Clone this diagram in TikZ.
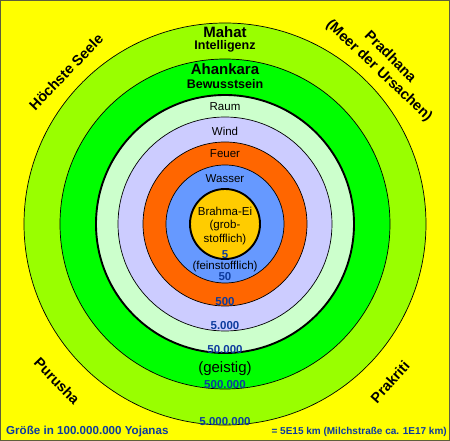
\documentclass[tikz,border=0pt]{standalone}
\usepackage{fontspec}
\setmainfont{Liberation Sans}

\definecolor{bgyellow}{HTML}{FFFF00}
\definecolor{framegray}{HTML}{5F5F3A}
\definecolor{mahatgreen}{HTML}{99FF00}
\definecolor{ahankgreen}{HTML}{00FF00}
\definecolor{raumgreen}{HTML}{CCFFCC}
\definecolor{windblue}{HTML}{CCCCFF}
\definecolor{feuerorange}{HTML}{FF6600}
\definecolor{wasserblue}{HTML}{6699FF}
\definecolor{eiyellow}{HTML}{FFCC00}
\definecolor{sizeblue}{HTML}{0D3B9E}

\begin{document}
\begin{tikzpicture}[x=1pt, y=1pt, every node/.style={inner sep=0pt, font=\fontsize{11.5}{13.5}\selectfont},
	thinring/.style={draw=black, line width=0.7pt},
	thickring/.style={draw=black, line width=1.9pt},
	bigname/.style={font=\bfseries\fontsize{15}{17}\selectfont},
	subname/.style={font=\bfseries\fontsize{12.5}{14}\selectfont},
	sizelabel/.style={text=sizeblue, font=\bfseries\fontsize{11.5}{13}\selectfont},
	cornername/.style={font=\bfseries\fontsize{14.5}{16}\selectfont}]
	% background and frame
	\fill[bgyellow] (-225,-217) rectangle (225,224);
	\draw[framegray, line width=1pt] (-224.5,-216.5) rectangle (224.5,223.5);
	\useasboundingbox (-225,-217) rectangle (225,224);
	% rings from outside to inside
	\filldraw[mahatgreen, thinring] (0,0) circle (201);
	\filldraw[ahankgreen, thinring] (0,0) circle (165);
	\filldraw[raumgreen, thickring] (0,0) circle (129);
	\filldraw[windblue, thinring] (0,0) circle (107);
	\filldraw[feuerorange, thinring] (0,0) circle (82);
	\filldraw[wasserblue, thinring] (0,0) circle (59);
	\filldraw[eiyellow, thickring] (0,0) circle (35);
	% names of the rings
	\node[bigname] (mahat) at (0,192) {Mahat};
	\node[subname] (intell) at (0,178) {Intelligenz};
	\node[bigname] (ahankara) at (0,155) {Ahankara};
	\node[subname] (bewusst) at (0,140) {Bewusstsein};
	\node (raum) at (0,117) {Raum};
	\node (wind) at (0,93) {Wind};
	\node (feuer) at (0,70) {Feuer};
	\node (wasser) at (0,45) {Wasser};
	\node[align=center] (ei) at (0,-2) {Brahma-Ei\\(grob-\\stofflich)};
	\node (fein) at (0,-43) {(feinstofflich)};
	\node[font=\fontsize{15}{17}\selectfont] (geistig) at (0,-145) {(geistig)};
	% sizes
	\foreach \lab/\y [count=\i] in {5/-31, 50/-53, 500/-78, 5.000/-102, 50.000/-126, 500.000/-161, 5.000.000/-198}
		{\node[sizelabel] (size\i) at (0,\y) {\lab};}
	% corner names
	\node[cornername, rotate=46] (seele) at (-159,152) {Höchste Seele};
	\node[cornername, rotate=-45] (pradhana) at (166,168) {Pradhana};
	\node[cornername, rotate=-43.5] (meer) at (154,153) {(Meer der Ursachen)};
	\node[cornername, rotate=-46] (purusha) at (-168,-157) {Purusha};
	\node[cornername, rotate=48] (prakriti) at (165,-158) {Prakriti};
	% scale note
	\node[text=sizeblue, font=\bfseries\fontsize{11.6}{13}\selectfont, anchor=west] (groesse) at (-219,-208) {Größe in 100.000.000 Yojanas};
	\node[text=sizeblue, font=\bfseries\fontsize{10}{12}\selectfont, anchor=east] (km) at (222,-208) {= 5E15 km (Milchstraße ca. 1E17 km)};
\end{tikzpicture}
\end{document}
